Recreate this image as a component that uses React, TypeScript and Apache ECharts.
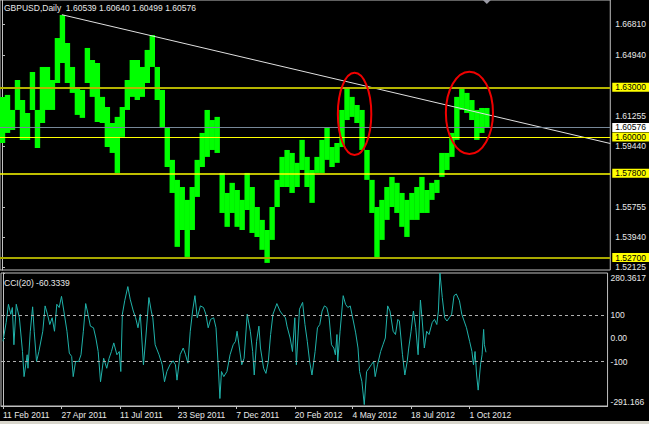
import React, { useEffect, useRef } from 'react';
import * as echarts from 'echarts';

const FONT = '"Liberation Sans", Arial, sans-serif';
const FS = 8.5;

// ---- time axis (calendar days since 11 Feb 2011) ----
const X_MIN_DAY = -2.545;
const X_MAX_DAY = 774.8;
const dateTickDays = [0, 75, 150, 224, 299, 374, 448, 523, 598];
const dateTickLabels = ['11 Feb 2011', '27 Apr 2011', '11 Jul 2011', '23 Sep 2011', '7 Dec 2011', '20 Feb 2012', '4 May 2012', '18 Jul 2012', '1 Oct 2012'];

// ---- price panel ----
const PRICE_MIN = 1.5195;
const PRICE_MAX = 1.6828;
const priceTicks = [1.52125, 1.5394, 1.55755, 1.5944, 1.61255, 1.6494, 1.6681];
const PRICE_FIRST_DAY = 0.64;
const PRICE_STEP_DAYS = 6.36;
const priceHigh = [
  1.6242, 1.6254, 1.6163, 1.6344, 1.6223, 1.6145, 1.6393, 1.6163, 1.6423, 1.6423,
  1.6344, 1.6598, 1.6737, 1.6568, 1.6423, 1.6302, 1.6284, 1.6538, 1.6465, 1.6447,
  1.6242, 1.6181, 1.6084, 1.6121, 1.6181, 1.6344, 1.6465, 1.6465, 1.6423, 1.6526,
  1.6616, 1.6423, 1.6284, 1.6060, 1.5861, 1.5740, 1.5697, 1.5619, 1.5697, 1.5861,
  1.6024, 1.6163, 1.6102, 1.6121, 1.5782, 1.5661, 1.5722, 1.5679, 1.5619, 1.5782,
  1.5697, 1.5576, 1.5498, 1.5437, 1.5576, 1.5740, 1.5879, 1.5921, 1.5903, 1.5843,
  1.5982, 1.5879, 1.5800, 1.5879, 1.5982, 1.6060, 1.5939, 1.5963, 1.6163, 1.6296,
  1.6242, 1.6193, 1.6163, 1.5921, 1.5740, 1.5576, 1.5619, 1.5697, 1.5758, 1.5722,
  1.5661, 1.5619, 1.5661, 1.5697, 1.5758, 1.5679, 1.5722, 1.5740, 1.5903, 1.5903,
  1.6024, 1.6242, 1.6302, 1.6266, 1.6223, 1.6163, 1.6175, 1.6175,
];
const priceLow = [
  1.5963, 1.6024, 1.6042, 1.6163, 1.5982, 1.5982, 1.6163, 1.5933, 1.6084, 1.6163,
  1.6163, 1.6326, 1.6447, 1.6326, 1.6266, 1.6133, 1.6115, 1.6326, 1.6242, 1.6090,
  1.6084, 1.5939, 1.5903, 1.5782, 1.6000, 1.6163, 1.6242, 1.6223, 1.6242, 1.6326,
  1.6423, 1.6223, 1.6060, 1.5818, 1.5661, 1.5335, 1.5437, 1.5274, 1.5437, 1.5637,
  1.5818, 1.5879, 1.5921, 1.5903, 1.5540, 1.5456, 1.5540, 1.5456, 1.5437, 1.5558,
  1.5419, 1.5395, 1.5317, 1.5238, 1.5377, 1.5576, 1.5697, 1.5697, 1.5661, 1.5697,
  1.5800, 1.5697, 1.5601, 1.5782, 1.5782, 1.5861, 1.5818, 1.5843, 1.5939, 1.6102,
  1.6121, 1.6084, 1.5921, 1.5740, 1.5540, 1.5268, 1.5377, 1.5498, 1.5576, 1.5540,
  1.5456, 1.5395, 1.5498, 1.5498, 1.5540, 1.5540, 1.5619, 1.5661, 1.5758, 1.5800,
  1.5879, 1.5982, 1.6163, 1.6145, 1.6102, 1.5982, 1.6024, 1.6054,
];
const lastQuote = { open: 1.60539, high: 1.6064, low: 1.60499, close: 1.60576 };
const trendLine = [[76.3, 1.6739], [774.8, 1.596]];
const levels = [
  { value: 1.63, color: '#b4b400', width: 2 },
  { value: 1.6, color: '#ffff00', width: 1 },
  { value: 1.578, color: '#ffff00', width: 1.5 },
  { value: 1.527, color: '#a8a800', width: 2 },
];
// annotation ellipses: [centerDay, centerPrice, radiusDays, radiusPrice]
const ellipses = [
  [449.1, 1.6139, 21.3, 0.0249],
  [595.4, 1.6145, 30.0, 0.0249],
];

// ---- CCI panel ----
const CCI_MIN = -291.166;
const CCI_MAX = 280.3617;
const cciTicks = [-291.166, -100, 0, 100, 280.3617];
const cciTickLabels = ['-291.166', '-100', '0.00', '100', '280.3617'];
const cciLast = -60.3339;
const cciPoints = [
  [0, -13], [4, 67], [7, 146], [10, 103], [12, 132], [14, -28], [17, 146], [21, 88], [25, -57], [27, -165],
  [31, -71], [32, -129], [35, 30], [38, 135], [40, 30], [43, -100], [46, -57], [51, 30], [54, 139], [57, 103],
  [60, 59], [63, 88], [66, 30], [69, 146], [72, 132], [75, 180], [78, 117], [82, 30], [85, -64], [88, -78],
  [90, -165], [93, -100], [97, -100], [100, -71], [103, 30], [106, 149], [109, 103], [112, 52], [116, 45], [119, 1],
  [122, -57], [125, -187], [129, -86], [133, -129], [136, -86], [139, -57], [142, -20], [146, -71], [149, -57], [151, -143],
  [153, 103], [156, 161], [160, 222], [163, 168], [167, 117], [170, 88], [173, 45], [176, 103], [180, -114], [183, 1],
  [187, 175], [190, 117], [192, 88], [195, -28], [200, -71], [204, -114], [207, -187], [210, -143], [214, -114], [218, -97],
  [221, -114], [223, -180], [227, -71], [231, -42], [234, -71], [237, -107], [240, 30], [243, 117], [246, 183], [249, 88],
  [253, 139], [257, 132], [260, 103], [263, 45], [266, 81], [270, 88], [273, 45], [276, -129], [278, -259], [280, -143],
  [283, -165], [287, -143], [291, -71], [295, -28], [298, -13], [300, 30], [303, -42], [306, -114], [309, -86], [313, 103],
  [317, 30], [320, -57], [322, -158], [325, -13], [328, 52], [330, -42], [334, -129], [337, -151], [340, -100], [343, 16],
  [346, 103], [351, 149], [355, 117], [358, 103], [362, 88], [364, 52], [368, 1], [371, -57], [374, 88], [376, -114],
  [380, 125], [384, 154], [387, 59], [390, -13], [393, -100], [396, -158], [400, -57], [403, 45], [406, 59], [409, 117],
  [412, 139], [415, 132], [418, 88], [421, -28], [424, -42], [426, -71], [428, 16], [429, -100], [432, 30], [436, 183],
  [439, 146], [442, 132], [445, 139], [449, 74], [452, 23], [455, -42], [457, -143], [460, -187], [463, -285], [466, -143],
  [469, -129], [472, -114], [475, -100], [477, -165], [480, -114], [484, -57], [487, -28], [490, 1], [493, 139], [496, 117],
  [500, 30], [503, 16], [506, 81], [508, 74], [512, -71], [515, -158], [518, -100], [520, -42], [523, 30], [526, 117],
  [529, 45], [532, -71], [535, 164], [537, 88], [540, -42], [543, 30], [546, 16], [550, 67], [553, 81], [556, 59],
  [558, 117], [560, 280.36], [563, 175], [566, 88], [569, 74], [572, 88], [575, 103], [578, 183], [581, 190], [585, 161],
  [588, 103], [591, 74], [594, 45], [598, -13], [601, -57], [603, -114], [605, -57], [607, -158], [609, -223], [612, -114],
  [614, -71], [616, 38], [617, -28], [619, -60.33],
];

const FG = '#e8e8e8';
const FRAME = '#c0c0c0';

export default function App() {
  const ref = useRef<HTMLDivElement>(null);
  useEffect(() => {
    const el = ref.current!;
    const chart = echarts.init(el, null, { renderer: 'svg' });
    const priceBars = priceHigh.map((h, i) => [PRICE_FIRST_DAY + i * PRICE_STEP_DAYS, priceLow[i], h]);

    const levelMarks: any[] = levels.map((l) => ({
      yAxis: l.value,
      lineStyle: { color: l.color, width: l.width, type: 'solid' },
      label: {
        formatter: l.value.toFixed(5),
        backgroundColor: '#ffff00',
        color: '#000000',
      },
    }));
    levelMarks.push({
      yAxis: lastQuote.close,
      lineStyle: { color: '#778899', width: 1, type: 'solid' },
      label: { formatter: lastQuote.close.toFixed(5), backgroundColor: '#ffffff', color: '#000000' },
    });

    const option: any = {
      animation: false,
      backgroundColor: '#000000',
      textStyle: { fontFamily: FONT, fontSize: FS },
      grid: [
        { left: 0, top: 0, width: 611, height: 270, show: true, borderColor: FRAME, borderWidth: 1 },
        { left: 0, top: 273, width: 611, height: 133, show: true, borderColor: FRAME, borderWidth: 1 },
      ],
      xAxis: [
        {
          type: 'value', gridIndex: 0, min: X_MIN_DAY, max: X_MAX_DAY,
          axisLine: { show: false }, axisTick: { show: false }, axisLabel: { show: false }, splitLine: { show: false },
        },
        {
          type: 'value', gridIndex: 1, min: X_MIN_DAY, max: X_MAX_DAY, position: 'bottom',
          axisLine: { show: true, onZero: false, lineStyle: { color: FRAME } },
          axisTick: { show: true, customValues: dateTickDays, length: 3, lineStyle: { color: FRAME } },
          axisLabel: {
            customValues: dateTickDays,
            formatter: (v: number) => dateTickLabels[dateTickDays.indexOf(v)] ?? '',
            align: 'left', color: FG, fontSize: FS, fontFamily: FONT, margin: 4,
          },
          splitLine: { show: false },
        },
      ],
      yAxis: [
        {
          type: 'value', gridIndex: 0, position: 'right', min: PRICE_MIN, max: PRICE_MAX,
          axisLine: { show: true, lineStyle: { color: FRAME } },
          axisTick: { show: true, customValues: priceTicks, length: 3, lineStyle: { color: FRAME } },
          axisLabel: {
            customValues: priceTicks, formatter: (v: number) => v.toFixed(5),
            color: FG, fontSize: FS, fontFamily: FONT, margin: 5, lineHeight: 9,
          },
          splitLine: { show: false },
        },
        {
          type: 'value', gridIndex: 1, position: 'right', min: CCI_MIN, max: CCI_MAX,
          axisLine: { show: true, lineStyle: { color: FRAME } },
          axisTick: { show: true, customValues: cciTicks, length: 2, lineStyle: { color: FRAME } },
          axisLabel: {
            customValues: cciTicks,
            formatter: (v: number) => cciTickLabels[cciTicks.indexOf(v)] ?? '',
            color: FG, fontSize: FS, fontFamily: FONT, margin: 3,
            verticalAlignMaxLabel: 'top', verticalAlignMinLabel: 'bottom',
          },
          splitLine: { show: false },
        },
      ],
      series: [
        {
          type: 'custom', name: 'GBPUSD', xAxisIndex: 0, yAxisIndex: 0, z: 2, clip: true,
          data: priceBars,
          encode: { x: 0, y: [1, 2] },
          renderItem: (params: any, api: any) => {
            const x = api.value(0);
            const top = api.coord([x, api.value(2)]);
            const bot = api.coord([x, api.value(1)]);
            const w = api.size([PRICE_STEP_DAYS, 0])[0] + 0.4;
            return {
              type: 'rect',
              shape: { x: top[0] - w / 2, y: top[1], width: w, height: Math.max(1, bot[1] - top[1]) },
              style: { fill: '#00ff00' },
            };
          },
        },
        {
          type: 'line', name: 'trend', xAxisIndex: 0, yAxisIndex: 0, z: 4,
          data: trendLine, symbol: 'none', silent: true,
          lineStyle: { color: '#e0e0e0', width: 1 },
          markLine: {
            silent: true, symbol: 'none', animation: false, precision: 5,
            label: {
              show: true, position: 'end', distance: 2, fontSize: FS, fontFamily: FONT,
              padding: [0, 3, 0, 3], lineHeight: 9,
            },
            data: levelMarks,
          },
        },
        {
          type: 'line', name: 'CCI(20)', xAxisIndex: 1, yAxisIndex: 1, z: 3,
          data: cciPoints, symbol: 'none', showSymbol: false,
          lineStyle: { color: '#20b2aa', width: 1 },
          markLine: {
            silent: true, symbol: 'none', animation: false, precision: 4,
            label: { show: false },
            lineStyle: { color: '#b0b0b0', width: 1, type: [3, 3] },
            data: [{ yAxis: 100 }, { yAxis: -100 }],
          },
        },
      ],
    };
    chart.setOption(option);

    const toPx = (d: number, p: number) => chart.convertToPixel({ gridIndex: 0 }, [d, p]) as number[];
    const ellipseGraphics = ellipses.map(([d, p, rd, rp]) => {
      const c = toPx(d, p);
      const ex = toPx(d + rd, p);
      const ey = toPx(d, p + rp);
      return {
        type: 'ellipse', silent: true, z: 10,
        shape: { cx: c[0], cy: c[1], rx: Math.abs(ex[0] - c[0]), ry: Math.abs(c[1] - ey[1]) },
        style: { fill: 'none', stroke: '#f00000', lineWidth: 2 },
      };
    });
    const lastDay = priceBars[priceBars.length - 1][0];
    const mk = toPx(lastDay, PRICE_MAX);

    chart.setOption({
      graphic: [
        {
          type: 'text', left: 4, top: 3, silent: true, z: 20,
          style: {
            text: `GBPUSD,Daily  ${lastQuote.open.toFixed(5)} ${lastQuote.high.toFixed(5)} ${lastQuote.low.toFixed(5)} ${lastQuote.close.toFixed(5)}`,
            fill: FG, font: `${FS}px ${FONT}`,
          },
        },
        {
          type: 'text', left: 4, top: 278, silent: true, z: 20,
          style: { text: `CCI(20) ${cciLast.toFixed(4)}`, fill: FG, font: `${FS}px ${FONT}` },
        },
        ...ellipseGraphics,
        {
          type: 'polygon', silent: true, z: 20,
          shape: { points: [[mk[0] - 4, 0], [mk[0] + 4, 0], [mk[0], 4]] },
          style: { fill: '#9a9aa4' },
        },
        {
          type: 'rect', silent: true, z: 20,
          shape: { x: 0, y: 421, width: 649, height: 3 },
          style: { fill: '#d8d6cc' },
        },
      ],
    });
    return () => chart.dispose();
  }, []);
  return <div ref={ref} style={{ position: 'fixed', left: 0, top: 0, width: 649, height: 424 }} />;
}
